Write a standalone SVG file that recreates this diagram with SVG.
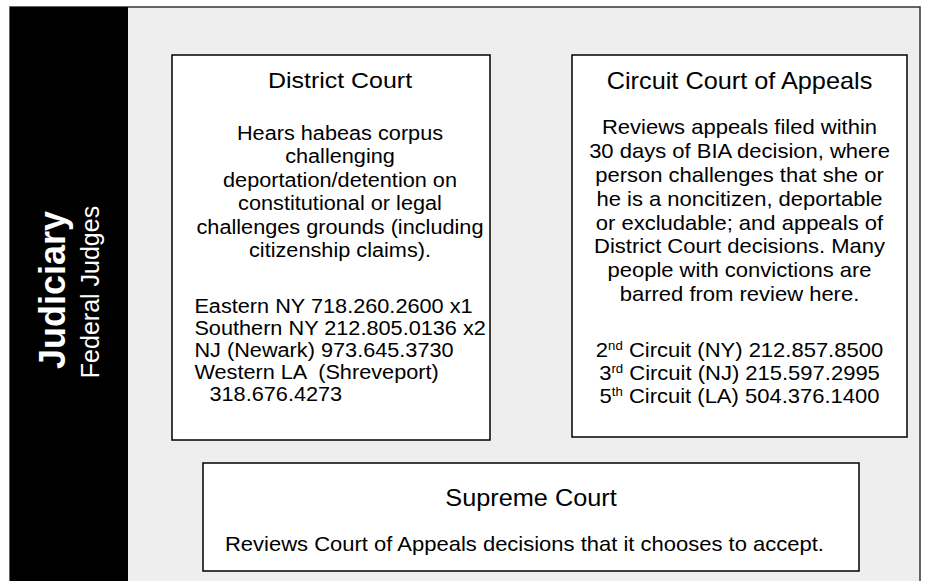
<svg xmlns="http://www.w3.org/2000/svg" width="925" height="581" viewBox="0 0 925 581">
<style>
text{font-family:"Liberation Sans",Arial,sans-serif;fill:#000}
.box{fill:#fff;stroke:#000;stroke-width:1.5}
.title{font-size:23px;text-anchor:middle}
.body{font-size:20px;text-anchor:middle}
.left{text-anchor:start}
.sup{font-size:12px}
</style>
<rect x="0" y="0" width="925" height="581" fill="#fff"/>
<rect x="10" y="7" width="910" height="590" fill="#eeeeee" stroke="#333" stroke-width="1.5"/>
<g id="judiciary">
<rect x="10" y="7" width="118" height="590" fill="#000"/>
<text transform="translate(65 290) rotate(-90)" style="font-size:36px;font-weight:bold;fill:#fff;text-anchor:middle">Judiciary</text>
<text transform="translate(99 292) rotate(-90)" style="font-size:25px;fill:#fff;text-anchor:middle">Federal Judges</text>
</g>
<g id="district-court">
<rect class="box" x="172" y="55" width="318" height="385"/>
<g transform="translate(340 0) scale(1.085 1)">
<text class="title" x="0" y="88">District Court</text>
<text class="body" x="0" y="140">Hears habeas corpus</text>
<text class="body" x="0" y="163.5">challenging</text>
<text class="body" x="0" y="187">deportation/detention on</text>
<text class="body" x="0" y="210.5">constitutional or legal</text>
<text class="body" x="0" y="234">challenges grounds (including</text>
<text class="body" x="0" y="257.5">citizenship claims).</text>
<text class="body left" x="-134.2" y="313">Eastern NY 718.260.2600 x1</text>
<text class="body left" x="-134.2" y="335">Southern NY 212.805.0136 x2</text>
<text class="body left" x="-134.2" y="357">NJ (Newark) 973.645.3730</text>
<text class="body left" x="-134.2" y="379" style="white-space:pre">Western LA  (Shreveport)</text>
<text class="body left" x="-120.3" y="401">318.676.4273</text>
</g>
</g>
<g id="circuit-court">
<rect class="box" x="572" y="55" width="335" height="382"/>
<g transform="translate(739.5 0) scale(1.1 1)">
<text class="title" x="0" y="89">Circuit Court of Appeals</text>
<text class="body" x="0" y="134.5">Reviews appeals filed within</text>
<text class="body" x="0" y="158.3">30 days of BIA decision, where</text>
<text class="body" x="0" y="182.1">person challenges that she or</text>
<text class="body" x="0" y="205.9">he is a noncitizen, deportable</text>
<text class="body" x="0" y="229.7">or excludable; and appeals of</text>
<text class="body" x="0" y="253.5">District Court decisions. Many</text>
<text class="body" x="0" y="277.3">people with convictions are</text>
<text class="body" x="0" y="301.1">barred from review here.</text>
<text class="body" x="0" y="357">2<tspan class="sup" dy="-7">nd</tspan><tspan dy="7"> Circuit (NY) 212.857.8500</tspan></text>
<text class="body" x="0" y="380">3<tspan class="sup" dy="-7">rd</tspan><tspan dy="7"> Circuit (NJ) 215.597.2995</tspan></text>
<text class="body" x="0" y="403">5<tspan class="sup" dy="-7">th</tspan><tspan dy="7"> Circuit (LA) 504.376.1400</tspan></text>
</g>
</g>
<g id="supreme-court">
<rect class="box" x="203" y="463" width="656" height="108"/>
<g transform="translate(531 0) scale(1.1 1)">
<text class="title" x="0" y="506">Supreme Court</text>
<text class="body left" x="-278.2" y="551">Reviews Court of Appeals decisions that it chooses to accept.</text>
</g>
</g>
<g id="connectors"/>
</svg>
